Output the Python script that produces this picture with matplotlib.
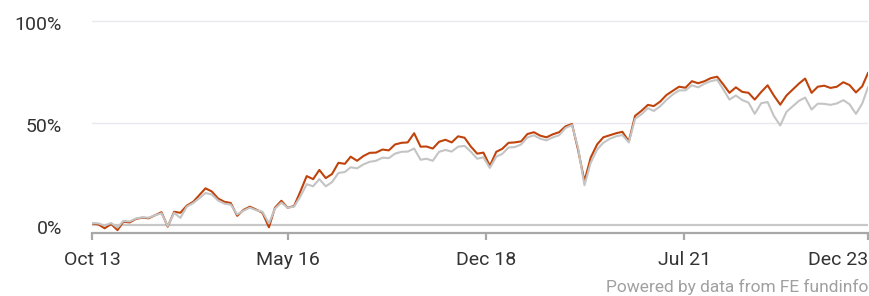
import pandas as pd
import matplotlib.pyplot as plt
from matplotlib.transforms import ScaledTranslation

plt.rcParams['font.family'] = ['Roboto', 'DejaVu Sans']

# monthly points, plus the last day
dates = list(pd.date_range('2013-10-01', '2023-12-01', freq='MS')) + [pd.Timestamp('2023-12-29')]

# fund cumulative performance (%)
fund = [0.8, 0.3, -1.6, 0.5, -2.5, 1.6, 1.3, 3.0, 3.6, 3.3,
        4.8, 6.3, -0.8, 6.5, 6.0, 9.5, 11.4, 14.5, 18.0, 16.5,
        13.0, 11.4, 10.8, 4.5, 7.4, 9.0, 7.6, 6.0, -1.1, 8.5,
        11.9, 8.5, 9.3, 16.3, 24.0, 22.5, 27.0, 23.0, 25.0, 30.5,
        30.0, 33.5, 31.5, 33.8, 35.4, 35.5, 37.0, 36.6, 39.5, 40.3,
        40.5, 45.0, 38.4, 38.5, 37.5, 40.8, 41.8, 40.5, 43.5, 42.8,
        38.5, 35.0, 35.5, 29.0, 35.9, 37.3, 40.3, 40.5, 41.0, 44.6,
        45.5, 43.8, 43.0, 44.5, 45.5, 48.4, 49.5, 37.0, 21.5, 33.0,
        39.5, 43.0, 44.0, 45.0, 45.7, 41.0, 53.5, 56.0, 58.9, 58.3,
        60.5, 63.7, 65.8, 67.8, 67.3, 70.5, 69.5, 70.5, 72.0, 72.7,
        68.7, 64.8, 67.5, 65.3, 64.8, 61.5, 65.2, 68.5, 63.5, 59.0,
        63.5, 66.5, 69.5, 71.8, 64.8, 67.8, 68.3, 67.2, 67.8, 70.0,
        68.6, 65.0, 68.0, 74.5]

# benchmark / sector (%)
bench = [1.0, 0.8, -0.3, 1.0, -1.2, 2.0, 1.8, 3.2, 3.8, 3.6,
         4.8, 5.8, -0.5, 6.0, 3.5, 9.0, 10.8, 13.0, 15.7, 15.0,
         12.0, 10.5, 10.0, 5.2, 7.0, 8.5, 7.3, 6.5, 0.8, 8.0,
         11.0, 8.5, 9.0, 13.9, 20.0, 19.0, 22.5, 19.0, 21.0, 25.5,
         26.0, 28.3, 27.8, 29.7, 31.0, 31.5, 33.0, 32.8, 35.0, 35.9,
         36.0, 37.5, 32.0, 32.5, 31.5, 35.9, 36.8, 36.0, 38.4, 38.8,
         36.0, 32.5, 33.2, 28.0, 33.5, 34.8, 38.0, 38.2, 39.5, 42.9,
         44.0, 42.3, 41.5, 43.0, 44.0, 47.6, 49.0, 38.0, 19.5, 30.5,
         37.0, 40.3, 42.3, 43.5, 44.1, 40.5, 52.0, 54.3, 57.3, 55.9,
         58.2, 61.3, 64.0, 66.0, 66.0, 68.5, 67.5, 69.3, 70.5, 71.2,
         66.2, 61.5, 63.5, 61.3, 60.0, 54.5, 59.7, 60.3, 53.5, 48.8,
         55.5, 58.3, 61.0, 62.5, 56.6, 59.5, 59.4, 58.9, 59.6, 61.2,
         59.2, 54.5, 59.5, 67.5]

tick_dates = pd.to_datetime(['2013-10-01', '2016-05-03', '2018-12-14', '2021-07-27', '2023-12-29'])
tick_labels = ['Oct 13', 'May 16', 'Dec 18', 'Jul 21', 'Dec 23']
y_ticks = [0, 50, 100]
y_labels = ['0%', '50%', '100%']

fig = plt.figure(figsize=(8.7, 2.96), dpi=100)
ax = fig.add_axes([92/870, 63/296, 776/870, 213/296])

# grid and zero line
for y in [50, 100]:
    ax.axhline(y, color='#ece6ef', lw=1, zorder=1)
ax.axhline(0, color='#c8c8c8', lw=1.6, zorder=2)

ax.plot(dates, fund, color='#c0430b', lw=1.5, zorder=3)
ax.plot(dates, bench, color='#c4c4c4', lw=1.5, zorder=4)

ax.set_xlim(dates[0], dates[-1])
ax.set_ylim(-3.9, 100.5)

for s in ['top', 'right', 'left']:
    ax.spines[s].set_visible(False)
ax.spines['bottom'].set_color('#a8a8a8')
ax.spines['bottom'].set_linewidth(1.6)

ax.set_xticks(tick_dates)
ax.set_xticklabels(tick_labels)
ax.tick_params(axis='x', length=5, width=1.6, color='#a8a8a8', pad=8,
               labelsize=14, labelcolor='#333333')
ax.get_xticklabels()[-1].set_ha('right')

ax.set_yticks(y_ticks)
ax.set_yticklabels(y_labels)
ax.tick_params(axis='y', length=0, pad=21.6, labelsize=14, labelcolor='#333333')
for lab in ax.get_yticklabels():
    lab.set_transform(lab.get_transform() + ScaledTranslation(0, -0.02, fig.dpi_scale_trans))

fig.text(868/870, 1/296, 'Powered by data from FE fundinfo', ha='right', va='bottom',
         fontsize=12.5, color='#a0a0a0')

fig.savefig('out.png', dpi=100)
